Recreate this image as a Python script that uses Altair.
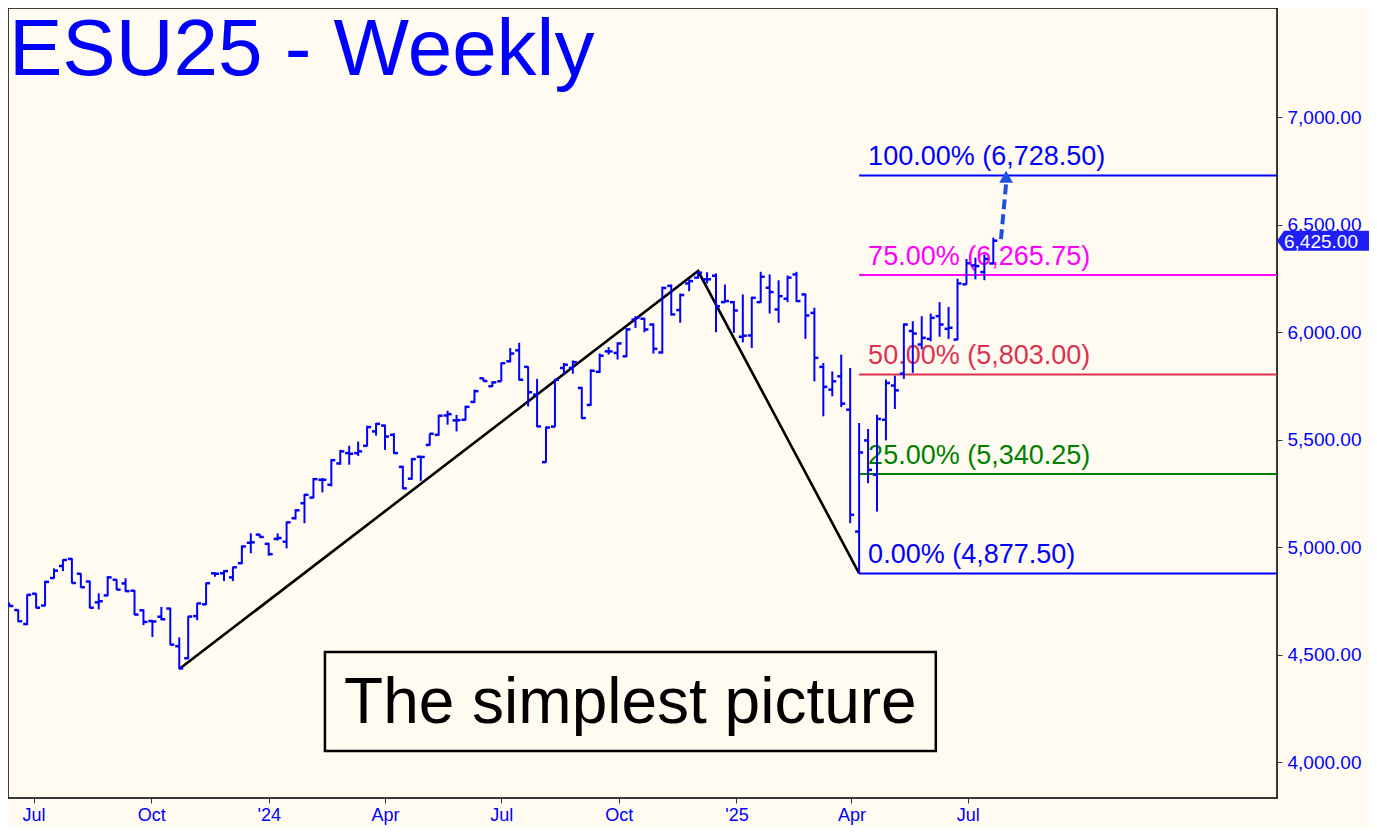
import altair as alt
import pandas as pd

# ---------------- data ----------------
first_week = "2023-06-12"
opens = [4738, 4707, 4642, 4783, 4728, 4856, 4912, 4945, 4876, 4840,
         4743, 4775, 4848, 4831, 4797, 4706, 4656, 4676, 4714, 4539,
         4483, 4679, 4734, 4878, 4878, 4859, 4925, 5020, 5058, 5015,
         5038, 5025, 5134, 5204, 5230, 5313, 5290, 5389, 5437, 5437,
         5471, 5538, 5565, 5522, 5373, 5318, 5420, 5475, 5522, 5612,
         5589, 5592, 5675, 5785, 5748, 5771, 5864, 5915, 5838, 5709,
         5395, 5560, 5833, 5833, 5740, 5661, 5815, 5910, 5903, 5887,
         6058, 6062, 6035, 5905, 6215, 6102, 6226, 6253, 6245, 6262,
         6139, 6139, 5978, 5984, 6139, 6206, 6105, 6155, 6268, 6175,
         6089, 5838, 5732, 5794, 5639, 5072, 5496, 5336, 5592, 5751,
         5807, 6005, 5942, 5968, 6074, 6015, 5965, 6222, 6310, 6279,
         6319]
highs = [4741, 4710, 4780, 4785, 4843, 4901, 4943, 4948, 4878, 4843,
         4785, 4865, 4850, 4855, 4800, 4710, 4660, 4722, 4718, 4580,
         4679, 4741, 4834, 4882, 4893, 4909, 5007, 5064, 5061, 5020,
         5064, 5118, 5176, 5247, 5321, 5321, 5409, 5452, 5471, 5491,
         5564, 5577, 5569, 5530, 5378, 5414, 5424, 5527, 5615, 5634,
         5615, 5657, 5732, 5787, 5771, 5859, 5926, 5950, 5841, 5782,
         5561, 5782, 5856, 5868, 5745, 5826, 5900, 5930, 5952, 6019,
         6074, 6066, 6040, 6211, 6221, 6179, 6245, 6283.5, 6278, 6273,
         6221, 6144, 6175, 6164, 6280, 6268, 6241, 6263, 6280, 6179,
         6113, 5856, 5817, 5895, 5833, 5577, 5549, 5615, 5779, 5797,
         6040, 6050, 6074, 6086, 6139, 6117, 6248, 6340, 6346, 6361,
         6439]
lows = [4722, 4651, 4637, 4715, 4725, 4853, 4888, 4831, 4811, 4715,
        4710, 4772, 4800, 4792, 4684, 4637, 4582, 4660, 4544, 4432.5,
        4479, 4660, 4730, 4862, 4842, 4842, 4921, 4971, 5044, 4960,
        5030, 4994, 5129, 5111, 5227, 5254, 5282, 5383, 5383, 5424,
        5468, 5518, 5452, 5434, 5269, 5313, 5308, 5471, 5518, 5569,
        5538, 5589, 5670, 5771, 5745, 5771, 5859, 5775, 5654, 5558,
        5393, 5558, 5802, 5806, 5596, 5657, 5810, 5895, 5872, 5884,
        6019, 5999, 5900, 5900, 6077, 6043, 6190, 6248, 6226, 5999,
        6136, 5996, 5952, 5926, 6136, 6086, 6043, 6139, 6140, 5968,
        5771, 5608, 5701, 5651, 5111, 4877.5, 5297, 5165, 5496, 5642,
        5782, 5810, 5920, 5957, 5978, 5968, 5962, 6221, 6245, 6241,
        6315]
closes = [4726, 4655, 4778, 4718, 4838, 4890, 4940, 4833, 4813, 4718,
          4748, 4859, 4802, 4795, 4686, 4652, 4654, 4664, 4546, 4436,
          4677, 4738, 4832, 4876, 4888, 4906, 5003, 5022, 5047, 4967,
          5042, 5115, 5171, 5243, 5316, 5313, 5404, 5445, 5434, 5445,
          5558, 5573, 5514, 5437, 5273, 5409, 5419, 5527, 5611, 5618,
          5590, 5652, 5725, 5772, 5766, 5855, 5900, 5778, 5720, 5561,
          5556, 5778, 5848, 5860, 5600, 5820, 5890, 5910, 5947, 6012,
          6066, 6012, 5922, 6205, 6082, 6172, 6237, 6276, 6245, 6120,
          6144, 6100, 5983, 6159, 6257, 6186, 6167, 6253, 6144, 6077,
          5880, 5745, 5771, 5667, 5150, 5440, 5359, 5596, 5763, 5729,
          6035, 5993, 5973, 6066, 6035, 6020, 6226, 6320, 6307, 6340,
          6425]

# swing points of the black zig-zag
swing_dates = ["2023-10-23", "2024-12-02", "2025-04-07"]
swing_values = [4432.5, 6283.5, 4877.5]

# Fibonacci-style projection levels
fib_pcts = ["100.00%", "75.00%", "50.00%", "25.00%", "0.00%"]
fib_levels = [6728.50, 6265.75, 5803.00, 5340.25, 4877.50]
fib_colors = ["#0000FF", "#FF00FF", "#DC3250", "#008000", "#0000FF"]
fib_start = "2025-04-07"

# dashed projection arrow
arrow_dates = ["2025-07-27", "2025-07-29", "2025-07-31"]
arrow_values = [6432, 6560, 6690]
arrow_head_date = "2025-07-31"
arrow_head_value = 6722

last_price = 6425.00
title_text = "ESU25 - Weekly"
box_text = "The simplest picture"
box_x = ["2024-02-14", "2025-06-06"]
box_y = [4051, 4512]
box_center = ("2024-10-10", 4284)

y_ticks = [4000, 4500, 5000, 5500, 6000, 6500, 7000]
x_domain = ["2023-06-11", "2026-02-28"]
y_domain = [3833, 7507]

# ---------------- styling ----------------
BG = "#FFFBF0"
BLUE = "#0000FF"
ARROW = "#2050E0"
TAG = "#1E1EF5"
FONT = "Liberation Sans"
W, H = 1269, 790

# ---------------- frames ----------------
bars = pd.DataFrame({
    "date": pd.date_range(first_week, periods=len(closes), freq="7D"),
    "open": opens, "high": highs, "low": lows, "close": closes,
})
swings = pd.DataFrame({"date": pd.to_datetime(swing_dates), "value": swing_values})
fib = pd.DataFrame({
    "date": pd.to_datetime([fib_start] * len(fib_levels)),
    "end": pd.to_datetime([x_domain[1]] * len(fib_levels)),
    "level": fib_levels,
    "color": fib_colors,
    "label": [f"{p} ({v:,.2f})" for p, v in zip(fib_pcts, fib_levels)],
})
arrow = pd.DataFrame({"date": pd.to_datetime(arrow_dates), "value": arrow_values})
head = pd.DataFrame({"date": pd.to_datetime([arrow_head_date]), "value": [arrow_head_value]})
box = pd.DataFrame({"date": pd.to_datetime([box_x[0]]), "end": pd.to_datetime([box_x[1]]),
                    "lo": [box_y[0]], "hi": [box_y[1]]})
boxlab = pd.DataFrame({"date": pd.to_datetime([box_center[0]]), "value": [box_center[1]], "t": [box_text]})
tag = pd.DataFrame({"value": [last_price], "t": [f"{last_price:,.2f}"]})
ttl = pd.DataFrame({"t": [title_text]})

# ---------------- scales / axes ----------------
xs = alt.Scale(domain=[alt.DateTime(year=2023, month=6, date=11),
                       alt.DateTime(year=2026, month=2, date=28)])
ys = alt.Scale(domain=y_domain, nice=False, zero=False)

quarter_ticks = [alt.DateTime(year=y, month=m, date=1) for y, m in
                 [(2023, 7), (2023, 10), (2024, 1), (2024, 4), (2024, 7),
                  (2024, 10), (2025, 1), (2025, 4), (2025, 7)]]
xaxis = alt.Axis(values=quarter_ticks, grid=False, labelColor=BLUE, labelFont=FONT,
                 labelFontSize=18, tickSize=5, tickColor="#333", domainColor="#333",
                 labelPadding=3, labelFlush=False, labelOverlap=False, title=None,
                 labelExpr="month(datum.value) == 0 ? \"'\" + timeFormat(datum.value, '%y') : timeFormat(datum.value, '%b')")
yaxis = alt.Axis(values=y_ticks, orient="right", format=",.2f", grid=False, labelColor=BLUE,
                 labelFont=FONT, labelFontSize=19, tickSize=5, tickColor="#333",
                 domainColor="#333", labelPadding=5, title=None)


def X(field="date"):
    return alt.X(f"{field}:T", scale=xs, axis=xaxis, title=None)


def Y(field):
    return alt.Y(f"{field}:Q", scale=ys, axis=yaxis, title=None)


# ---------------- layers ----------------
fib_rules = alt.Chart(fib).mark_rule(strokeWidth=2).encode(
    x=X(), x2="end:T", y=Y("level"), color=alt.Color("color:N", scale=None))
fib_text = alt.Chart(fib).mark_text(align="left", baseline="alphabetic", dx=9, dy=-10,
                                    fontSize=27, font=FONT).encode(
    x=X(), y=Y("level"), text="label:N", color=alt.Color("color:N", scale=None))

zigzag = alt.Chart(swings).mark_line(color="black", strokeWidth=2.6).encode(x=X(), y=Y("value"))

hl = alt.Chart(bars).mark_rule(color=BLUE, strokeWidth=2).encode(x=X(), y=Y("low"), y2="high:Q")
op = alt.Chart(bars).mark_rule(color=BLUE, strokeWidth=2.5, xOffset=-4, x2Offset=0).encode(
    x=X(), x2="date:T", y=Y("open"))
cl = alt.Chart(bars).mark_rule(color=BLUE, strokeWidth=2.5, xOffset=0, x2Offset=4).encode(
    x=X(), x2="date:T", y=Y("close"))

arrow_line = alt.Chart(arrow).mark_line(color=ARROW, strokeWidth=4, strokeDash=[10, 5]).encode(
    x=X(), y=Y("value"))
arrow_head = alt.Chart(head).mark_point(shape="triangle-up", filled=True, size=190, color=ARROW,
                                        opacity=1).encode(x=X(), y=Y("value"))

box_rect = alt.Chart(box).mark_rect(fill=BG, stroke="black", strokeWidth=2.5).encode(
    x=X(), x2="end:T", y=Y("lo"), y2="hi:Q")
box_label = alt.Chart(boxlab).mark_text(fontSize=64, font=FONT, color="black", baseline="middle",
                                        align="center", dy=3).encode(x=X(), y=Y("value"), text="t:N")

title = alt.Chart(ttl).mark_text(fontSize=80, font=FONT, color=BLUE, align="left",
                                 baseline="alphabetic").encode(
    x=alt.value(1), y=alt.value(67), text="t:N")

tag_rect = alt.Chart(tag).mark_rect(color=TAG, yOffset=-10, y2Offset=10).encode(
    x=alt.value(W + 7), x2=alt.value(W + 100), y=Y("value"), y2="value:Q")
tag_tip = alt.Chart(tag).mark_point(shape="M -0.7 0 L 0 -1 L 0 1 Z", filled=True, size=400,
                                    color=TAG, opacity=1).encode(x=alt.value(W + 7), y=Y("value"))
tag_text = alt.Chart(tag).mark_text(color="white", fontSize=19, font=FONT, align="left",
                                    baseline="middle", dy=1).encode(
    x=alt.value(W + 7), y=Y("value"), text="t:N")

chart = alt.layer(
    fib_rules, fib_text, zigzag, box_rect, box_label, hl, op, cl,
    arrow_line, arrow_head, title, tag_rect, tag_tip, tag_text,
).properties(
    width=W, height=H, background=BG,
    autosize=alt.AutoSizeParams(type="none"),
    padding={"left": 0, "top": 0, "right": 92, "bottom": 29},
).configure_view(stroke="#000", strokeWidth=1.5)

chart.save("out.html", embed_options={"renderer": "svg", "actions": False})
